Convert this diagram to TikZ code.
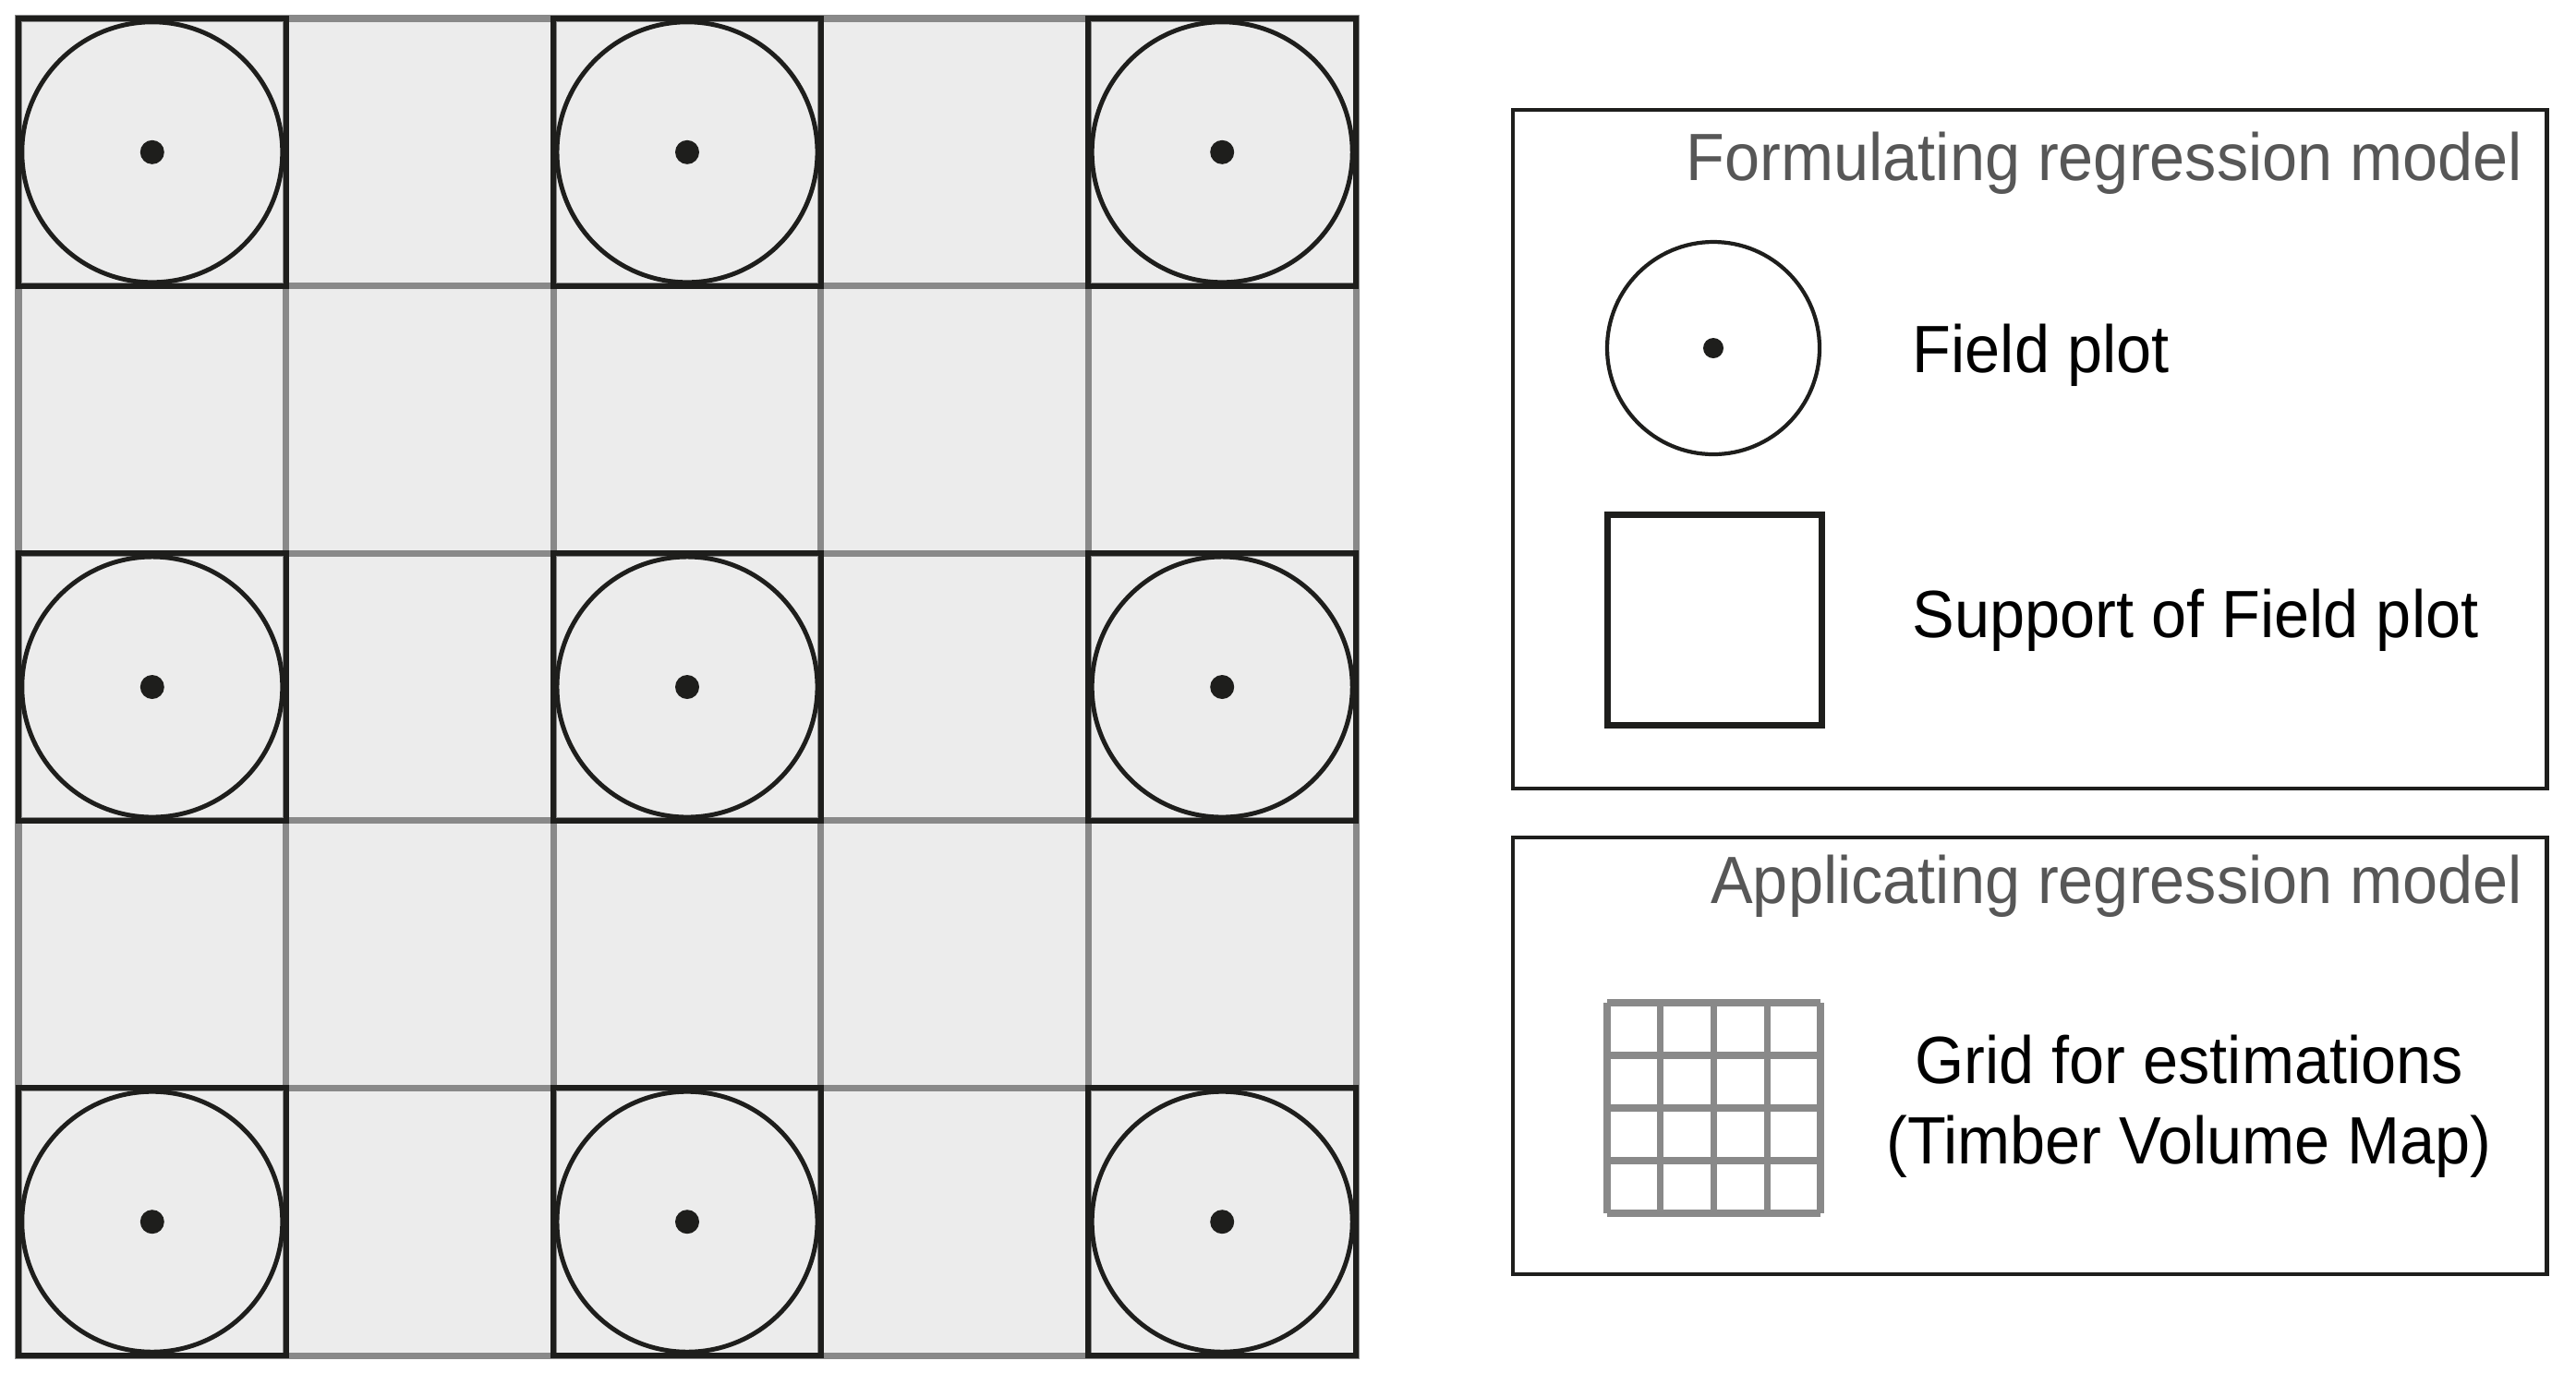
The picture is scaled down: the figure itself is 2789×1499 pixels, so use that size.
\documentclass[tikz,border=0pt]{standalone}
\usepackage{fontspec}
\setmainfont{Liberation Sans}[FakeStretch=0.945]
\definecolor{cellfill}{HTML}{ECECEC}
\definecolor{gridgray}{HTML}{898989}
\definecolor{ink}{HTML}{1E1E1C}
\definecolor{titlegray}{HTML}{575757}
\tikzset{
  gridline/.style={draw=gridgray, line width=2pt},
  supportline/.style={draw=ink, line width=1.7pt},
  plotline/.style={draw=ink, line width=1.4pt},
  plotdot/.style={fill=ink},
  legendbox/.style={draw=ink, line width=1.4pt},
  titletext/.style={text=titlegray, inner sep=0pt, font=\fontsize{20.6pt}{24pt}\selectfont},
  bodytext/.style={text=black, inner sep=0pt, font=\fontsize{20.6pt}{24pt}\selectfont},
}
\begin{document}
\begin{tikzpicture}[x=0.01cm, y=-0.01cm]
\useasboundingbox (0,0) rectangle (2789,1499);
\def\ga{20}
\def\gc{289.6}
% field grid
\fill[cellfill] (\ga,\ga) rectangle (\ga+5*\gc,\ga+5*\gc);
\foreach \i in {1,...,4} {
  \draw[gridline] (\ga+\i*\gc,\ga) -- (\ga+\i*\gc,\ga+5*\gc);
  \draw[gridline] (\ga,\ga+\i*\gc) -- (\ga+5*\gc,\ga+\i*\gc);
}
\draw[gridline] (\ga,\ga) rectangle (\ga+5*\gc,\ga+5*\gc);
% field plots with support
\foreach \c in {0,2,4} {
  \foreach \r in {0,2,4} {
    \draw[supportline] (\ga+\c*\gc,\ga+\r*\gc) rectangle (\ga+\c*\gc+\gc,\ga+\r*\gc+\gc);
    \draw[plotline] (\ga+\c*\gc+0.5*\gc,\ga+\r*\gc+0.5*\gc) circle[radius=141];
    \fill[plotdot] (\ga+\c*\gc+0.5*\gc,\ga+\r*\gc+0.5*\gc) circle[radius=13];
  }
}
% legend box 1
\draw[legendbox] (1638,119) rectangle (2757,854);
\node[titletext, anchor=base east] (t1) at (2732,195) {Formulating regression model};
\draw[plotline, line width=1.2pt] (1855,377) circle[radius=115];
\fill[plotdot] (1855,377) circle[radius=11];
\node[bodytext, anchor=base west] (l1) at (2070,403) {Field plot};
\draw[supportline, line width=2pt] (1740,557) rectangle (1972,785);
\node[bodytext, anchor=base west] (l2) at (2070,690) {Support of Field plot};
% legend box 2
\draw[legendbox] (1638,907) rectangle (2757,1380);
\node[titletext, anchor=base east] (t2) at (2732,978) {Applicating regression model};
\foreach \i in {0,...,4} {
  \draw[gridline, line width=2.1pt] (1740+\i*57.75,1086) -- (1740+\i*57.75,1314);
  \draw[gridline, line width=2.1pt] (1740,1086+\i*57) -- (1971,1086+\i*57);
}
\node[bodytext, anchor=base] (l3) at (2370,1173) {Grid for estimations};
\node[bodytext, anchor=base] (l4) at (2370,1260) {(Timber Volume Map)};
\end{tikzpicture}
\end{document}
